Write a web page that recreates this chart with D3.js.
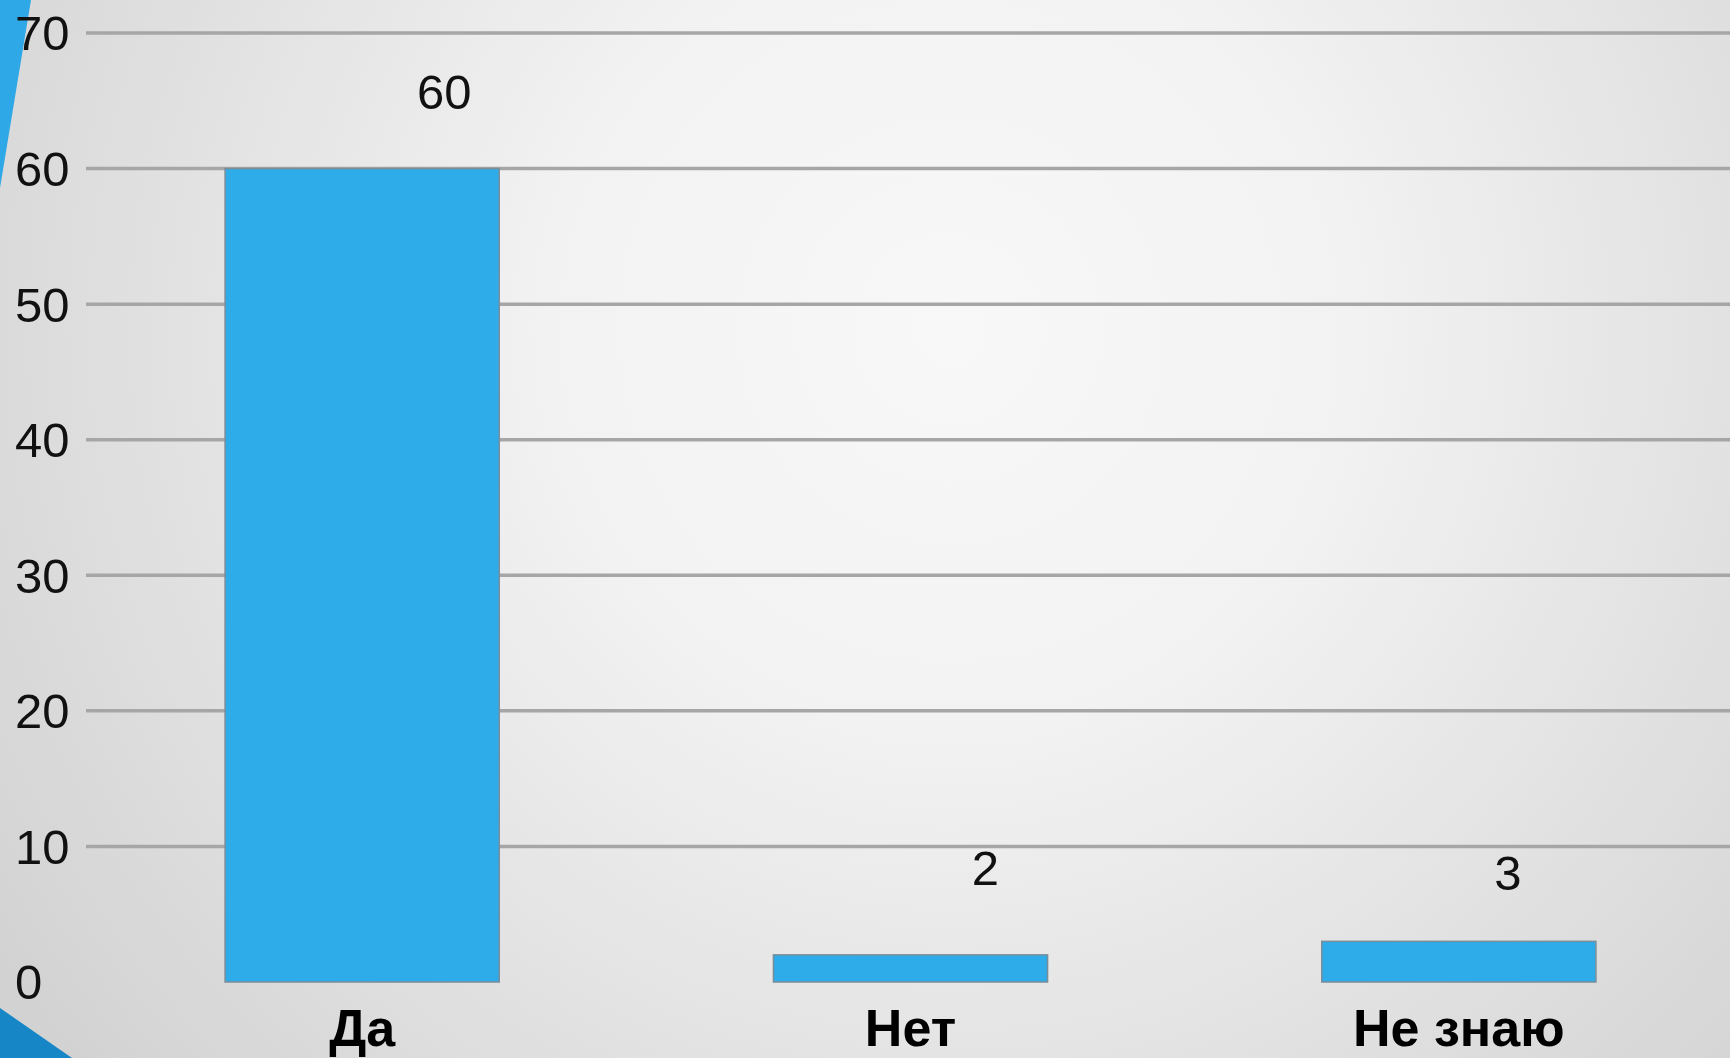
<!DOCTYPE html>
<html>
<head>
<meta charset="utf-8">
<script src="https://cdn.jsdelivr.net/npm/d3@7"></script>
<style>
  html, body { margin: 0; padding: 0; overflow: hidden; }
  svg { display: block; }
  text { font-family: "Liberation Sans", Arial, sans-serif; }
</style>
</head>
<body>
<svg id="chart" width="1730" height="1058"></svg>
<script>
// ---- data ----
const categories = ["Да", "Нет", "Не знаю"];
const values = [60, 2, 3];
const yTicks = [0, 10, 20, 30, 40, 50, 60, 70];

// ---- layout (not data) ----
const W = 1730, H = 1058;
const plot = { left: 86, right: 1730, top: 33, bottom: 982 };
// manual label nudges as in the source slide
const labelNudge = [[82, -60], [75, -70], [49, -51]];

const svg = d3.select("#chart");
const defs = svg.append("defs");
const grad = defs.append("radialGradient")
  .attr("id", "bg").attr("gradientUnits", "userSpaceOnUse")
  .attr("cx", 950).attr("cy", 330).attr("r", 1150);
grad.append("stop").attr("offset", "0").attr("stop-color", "#f8f8f8");
grad.append("stop").attr("offset", "0.35").attr("stop-color", "#f2f2f2");
grad.append("stop").attr("offset", "0.75").attr("stop-color", "#dedede");
grad.append("stop").attr("offset", "1").attr("stop-color", "#d2d2d2");

svg.append("rect").attr("width", W).attr("height", H).attr("fill", "url(#bg)");

// decorative slide shapes
svg.append("path").attr("d", "M0,0 L31,0 L0,188 Z").attr("fill", "#2ea8e6");
svg.append("path").attr("d", "M0,1008 L72,1058 L0,1058 Z").attr("fill", "#1686c6");

const x = d3.scaleBand().domain(categories)
  .range([plot.left + 2, plot.right + 3]).paddingInner(0.5).paddingOuter(0.25);
const y = d3.scaleLinear().domain([0, 70]).range([plot.bottom, plot.top]);

// gridlines (no line at zero)
svg.append("g").selectAll("line")
  .data(yTicks.filter(d => d > 0))
  .join("line")
  .attr("x1", plot.left).attr("x2", plot.right)
  .attr("y1", d => y(d)).attr("y2", d => y(d))
  .attr("stroke", "#a6a6a6").attr("stroke-width", 3.5);

// y tick labels (left aligned)
svg.append("g").selectAll("text")
  .data(yTicks)
  .join("text")
  .attr("x", 15).attr("y", d => y(d))
  .attr("dy", "0.355em")
  .attr("font-size", 49)
  .attr("fill", "#111")
  .text(d => d);

// bars
svg.append("g").selectAll("rect")
  .data(values)
  .join("rect")
  .attr("x", (d, i) => x(categories[i]))
  .attr("width", x.bandwidth())
  .attr("y", d => y(d))
  .attr("height", d => y(0) - y(d))
  .attr("fill", "#2eabe9")
  .attr("stroke", "#7a8d99")
  .attr("stroke-width", 1.5);

// value labels
svg.append("g").selectAll("text")
  .data(values)
  .join("text")
  .attr("x", (d, i) => x(categories[i]) + x.bandwidth() / 2 + labelNudge[i][0])
  .attr("y", d => y(d))
  .attr("dy", (d, i) => labelNudge[i][1])
  .attr("text-anchor", "middle")
  .attr("font-size", 49)
  .attr("fill", "#111")
  .text(d => d);

// category labels
svg.append("g").selectAll("text")
  .data(categories)
  .join("text")
  .attr("x", d => x(d) + x.bandwidth() / 2)
  .attr("y", 1046)
  .attr("text-anchor", "middle")
  .attr("font-size", 52)
  .attr("font-weight", "bold")
  .attr("fill", "#000")
  .text(d => d);
</script>
</body>
</html>
